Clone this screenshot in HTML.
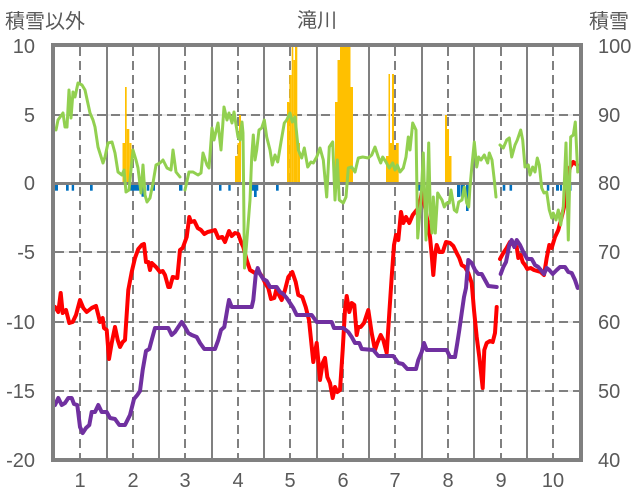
<!DOCTYPE html>
<html><head><meta charset="utf-8">
<style>
html,body{margin:0;padding:0;background:#fff;}
svg{display:block;}
text{font-family:"Liberation Sans","Noto Sans CJK JP",sans-serif;fill:#595959;}
</style></head>
<body>
<svg width="636" height="501" viewBox="0 0 636 501" xmlns="http://www.w3.org/2000/svg">
<rect width="636" height="501" fill="#fff"/>
<!-- light horizontal lines -->
<g stroke="#D9D9D9" stroke-width="1">
<line x1="53" y1="115" x2="581" y2="115"/>
<line x1="53" y1="252" x2="581" y2="252"/>
<line x1="53" y1="322" x2="581" y2="322"/>
<line x1="53" y1="391" x2="581" y2="391"/>
</g>
<!-- dashed horizontal -->
<g stroke="#808080" stroke-width="2" stroke-dasharray="9,5">
<line x1="55" y1="115" x2="581" y2="115"/>
<line x1="55" y1="252" x2="581" y2="252"/>
<line x1="55" y1="322" x2="581" y2="322"/>
<line x1="55" y1="391" x2="581" y2="391"/>
</g>
<!-- solid vertical -->
<g stroke="#808080" stroke-width="2">
<line x1="107" y1="45" x2="107" y2="460"/>
<line x1="159" y1="45" x2="159" y2="460"/>
<line x1="212" y1="45" x2="212" y2="460"/>
<line x1="264" y1="45" x2="264" y2="460"/>
<line x1="317" y1="45" x2="317" y2="460"/>
<line x1="369" y1="45" x2="369" y2="460"/>
<line x1="422" y1="45" x2="422" y2="460"/>
<line x1="474" y1="45" x2="474" y2="460"/>
<line x1="527" y1="45" x2="527" y2="460"/>
</g>
<!-- dashed vertical -->
<g stroke="#808080" stroke-width="2" stroke-dasharray="9,5">
<line x1="80" y1="47" x2="80" y2="460"/>
<line x1="133" y1="47" x2="133" y2="460"/>
<line x1="185" y1="47" x2="185" y2="460"/>
<line x1="238" y1="47" x2="238" y2="460"/>
<line x1="290" y1="47" x2="290" y2="460"/>
<line x1="343" y1="47" x2="343" y2="460"/>
<line x1="395" y1="47" x2="395" y2="460"/>
<line x1="448" y1="47" x2="448" y2="460"/>
<line x1="501" y1="47" x2="501" y2="460"/>
<line x1="553" y1="47" x2="553" y2="460"/>
</g>
<!-- orange bars -->
<g fill="#FFC000">
<rect x="122.5" y="143" width="2.5" height="40"/>
<rect x="125" y="87" width="1.7" height="96"/>
<rect x="126.7" y="129" width="2.6" height="54"/>
<rect x="129.3" y="143" width="2.2" height="40"/>
<rect x="235" y="156" width="2.5" height="27"/>
<rect x="237.5" y="143" width="1.5" height="40"/>
<rect x="239" y="115" width="2" height="68"/>
<rect x="287" y="102" width="2.3" height="81"/>
<rect x="289.3" y="75" width="2.4" height="108"/>
<rect x="291.7" y="46" width="1.6" height="137"/>
<rect x="293.3" y="60" width="1.7" height="123"/>
<rect x="295" y="46" width="2.3" height="137"/>
<rect x="297.3" y="143" width="2.7" height="40"/>
<rect x="335" y="102" width="2.5" height="81"/>
<rect x="337.5" y="60" width="2.5" height="123"/>
<rect x="340" y="46" width="10.5" height="137"/>
<rect x="350.5" y="87" width="2.5" height="96"/>
<rect x="386" y="156" width="2.5" height="27"/>
<rect x="388.5" y="74" width="1.5" height="109"/>
<rect x="390" y="143" width="2" height="40"/>
<rect x="392" y="74" width="2" height="109"/>
<rect x="394" y="150" width="2" height="33"/>
<rect x="396" y="143" width="2.7" height="40"/>
<rect x="445" y="115" width="2" height="68"/>
<rect x="447" y="129" width="2" height="54"/>
<rect x="449" y="156" width="2.5" height="27"/>
</g>
<!-- blue bars -->
<g fill="#0070C0">
<rect x="55" y="183" width="3" height="7.7"/>
<rect x="66" y="183" width="2.7" height="7.7"/>
<rect x="71.7" y="183" width="2.4" height="7.7"/>
<rect x="90" y="183" width="2.7" height="7.7"/>
<rect x="128.5" y="183" width="13" height="7.7"/>
<rect x="141.5" y="183" width="3.5" height="13.7"/>
<rect x="146.7" y="183" width="2.6" height="7.7"/>
<rect x="151.7" y="183" width="3.3" height="7.7"/>
<rect x="179" y="183" width="3.5" height="7.7"/>
<rect x="219" y="183" width="2.5" height="7.7"/>
<rect x="228.3" y="183" width="2.4" height="7.7"/>
<rect x="251.7" y="183" width="6.6" height="7.7"/>
<rect x="254" y="183" width="2.7" height="14"/>
<rect x="276" y="183" width="2.7" height="7.7"/>
<rect x="418" y="183" width="3.7" height="7.7"/>
<rect x="457" y="183" width="3" height="14"/>
<rect x="460.5" y="183" width="2.5" height="13.7"/>
<rect x="463" y="183" width="2" height="8"/>
<rect x="466" y="183" width="2.6" height="28"/>
<rect x="502.7" y="183" width="2.6" height="7.7"/>
<rect x="509.5" y="183" width="2.6" height="7.7"/>
<rect x="546.8" y="183" width="2.5" height="7.7"/>
<rect x="556" y="183" width="3" height="7.7"/>
<rect x="560" y="183" width="2" height="7.7"/>
<rect x="568" y="183" width="3.5" height="7.7"/>
</g>
<!-- zero axis -->
<line x1="53" y1="183.5" x2="581" y2="183.5" stroke="#808080" stroke-width="3"/>
<!-- red -->
<g fill="none" stroke="#FF0000" stroke-width="4" stroke-linejoin="round" stroke-linecap="round">
<polyline points="55,307 58.3,312 60.7,293 62.7,313 66,310 69.3,323 72.7,322 76,315 80,300 83.3,308 86.7,312 91.7,308 96,306 98.3,315 100,322 102.7,318 104,328 106.7,330 109,359 111.7,343 115,327 117.7,340 120,347 122.7,342 125,340 128.3,290 131.7,272 135,258 138.3,249 141.7,245 144,244 146,262 148.3,262 150,270 151.7,263 156,267 160,272 162.7,271 165,275 168.3,287 170,287 172.7,277 177.3,278 180,250 182.7,248 186.7,237 189.3,217 191,222 194.3,221 197.7,228 201,230 204.3,234 207.7,232 211.7,231 215,230 218.3,238 222.3,237 225,242 229,231 231.7,236 235,233 238.3,234 241,242 243.3,247 246.7,260 250,270 255,273 259,272 262.3,277 265.7,284 268.3,288 271,299 274.3,298 276.7,288 279,295 281.7,300 285,290 288.3,277 292.3,272 295.7,282 298.3,295 302.3,297 305.7,307 309,320 313.3,362 316.7,343 320,380 322.7,363 325,358 327.3,377 330,383 332.7,398 335,387 337.3,392 340,390 342.7,350 345,310 346.7,296 349.3,312 351.7,303 354.3,305 356.7,335 358.3,327 360.7,327 364,323 368.3,310 371.7,333 375,350 377.3,343 380.7,335 383.3,340 386.7,353 389.3,313 391.7,277 394,245 396,235 398.3,240 401,212 403.3,223 406,217 409.3,223 412.7,215 416.7,210 419.3,207 421.7,193 425,207 427.3,220 430,237 431.7,255 433.3,275 435,255 436.7,245 439.3,252 442.7,252 446,242 450,243 453.3,246 456.7,253 459.3,258 461.7,265 465,267 468.3,273 471.7,283 474,310 476.7,337 479.3,357 482.7,388 484.3,350 486.7,343 490,341 492.7,342 495,333 496.7,307"/>
<polyline points="500,259 503.3,253 506.7,248 510,242 513.3,245 516.7,247 518.3,258 520.7,255 522.7,262 525,265 527.3,269 530.7,268 534,270 537.3,271 540.7,272 544,275 546.7,258 549.3,245 551.7,248 555,237 558.3,230 561.7,217 564,207 566.7,187 570,167 573.3,162 577.3,165"/>
</g>
<!-- purple -->
<g fill="none" stroke="#7030A0" stroke-width="4" stroke-linejoin="round" stroke-linecap="round">
<polyline points="55,405 58.3,398 61.7,405 65,403 68.3,398 71.7,398 74,404 77.3,405 80,427 82.7,433 86,428 89.3,425 91.7,412 95,412 98.3,405 101.7,412 106.7,412 110,418 115,419 119.3,425 125,425 130,415 134,399 137.3,395 140,391 142.7,370 146,351 149.3,349 151.7,340 155,328 160,328 168.3,328 171.7,335 175,332 178.3,327 181.7,322 185,327 188.3,333 191.7,335 196.7,337 200,343 204.3,349 215,349 218.3,340 221,330 224.3,327 227.7,307 229,300 231.7,307 251.7,307 253.3,300 255.7,275 257.7,268 260,274 263.3,279 266.7,281 270,287 276.7,287 280,292 283.3,294 286.7,298 290,303 293.3,308 296.7,315 311.7,315 316.7,322 331.7,322 334,328 343.3,328 348.3,332 351.7,337 355,343 359.3,343 361.7,349 373.3,350 378.3,356 393.3,356 398.3,363 402.7,364 407.3,369 416,369 418.3,360 421.7,352 424,343 426.7,350 446.7,350 450,357 455,357 457.3,343 459.3,330 461.7,313 464,297 466,288 468.3,260 471.7,263 475,270 478.3,274 481.7,274 485,280 488.3,286 496.7,287"/>
<polyline points="500.7,274 503.3,267 506,262 509.3,245 511.7,240 514.3,247 516.7,240 520,245 523.3,252 527.3,259 531.7,259 535,265 538.3,267 541.7,271 544,274 546.7,268 549.3,270 552.7,274 556.7,270 560,267 565,267 568.3,272 571.7,273 575,280 577.7,288"/>
</g>
<!-- green -->
<g fill="none" stroke="#92D050" stroke-width="3" stroke-linejoin="round" stroke-linecap="round">
<polyline points="56,130 58,120 63,113 65,127 67,127 69,90 71,118 73,92 75,97 78,83 82,85 85,90 90,113 93,120 95,127 98,147 103,163 105,157 108,143 112,142 115,153 118,172 122,175 124,170 126,192 129,190 133,150 136,160 138,168 141,193 143,165 145,195 147,202 150,198 153,183 156,165 160,163 163,160 167,168 171,170 173,150 176,172 180,177"/>
<polyline points="185,190 189,172 193,172 198,175 201,173 203,153 207,165 209,168 212,128 214,140 218,123 221,150 224,107 227,120 229,113 232,123 234,112 238,137 240,140 242,122 243,133 244.5,268 246.5,245 250,200 251.7,157 253.3,135 255,160 256.7,150 259,130 261.7,128 264.3,120 266.7,137 270,150 272.3,165 275,155 277.7,162 281,142 284.3,123 286.7,120 290,113 292.3,122 295,117 298.3,150 301.7,158 304.3,148 307.7,167 311,162 313.3,163 316.7,157 320,148 323.3,160 326.7,197 329.3,147 332.7,142 335,200 337.3,160 339.3,200 343.3,203 346,197 348.3,168 351.7,167 355,172 358.3,158 362.7,157 368.3,158 371.7,155 375,147 378.3,157 380.7,163 382.7,157 386,162 389.3,168 392.7,163 395,170 397.3,165 400,172 403.3,168 406,157 408.3,137 410,150 412.7,123 416,130 417.7,238 421,200 423.3,153 426,240 428.7,143 430.3,213 432,233 433.3,197 435.3,233 437.7,193 440,197 442,200 444.3,207 446.7,203 449.3,203 451,190 454.3,210 456.7,212 458.7,202 462,200 464.3,187 466.7,203 468.7,207 470,187 472,165 474.3,142 476.7,167 478.7,157 481,160 484.3,155 487.7,163 489.3,153 492,160 494.3,180 496,197"/>
<polyline points="500,145 503.3,148 506.7,140 509.3,138 511.7,157 515,145 517.3,140 520.7,130 522.7,140 525,167 528.3,165 530,175 532.7,167 535,172 537.3,158 539.3,165 541.7,188 544,193 546.7,192 549.3,210 551.7,218 553.3,213 556,220 558.3,210 560.7,225 563.3,207 566,143 568.3,240 570.7,137 573.3,135 575.3,122 577.7,172"/>
</g>
<!-- border -->
<rect x="53" y="45" width="528" height="415" fill="none" stroke="#808080" stroke-width="4"/>
<!-- titles -->
<text x="5" y="28" font-size="20">積雪以外</text>
<text x="317" y="27" font-size="20" text-anchor="middle">滝川</text>
<text x="589" y="28" font-size="20">積雪</text>
<!-- left ticks -->
<g font-size="20" text-anchor="end">
<text x="35" y="53">10</text>
<text x="35" y="122">5</text>
<text x="35" y="190">0</text>
<text x="35" y="259">-5</text>
<text x="35" y="329">-10</text>
<text x="35" y="398">-15</text>
<text x="35" y="467">-20</text>
</g>
<!-- right ticks -->
<g font-size="20">
<text x="598" y="53">100</text>
<text x="598" y="122">90</text>
<text x="598" y="190">80</text>
<text x="598" y="259">70</text>
<text x="598" y="329">60</text>
<text x="598" y="398">50</text>
<text x="598" y="467">40</text>
</g>
<!-- x labels -->
<g font-size="20" text-anchor="middle">
<text x="80" y="487">1</text>
<text x="133" y="487">2</text>
<text x="185" y="487">3</text>
<text x="238" y="487">4</text>
<text x="290" y="487">5</text>
<text x="343" y="487">6</text>
<text x="395" y="487">7</text>
<text x="448" y="487">8</text>
<text x="501" y="487">9</text>
<text x="553" y="487">10</text>
</g>
</svg>
</body></html>
